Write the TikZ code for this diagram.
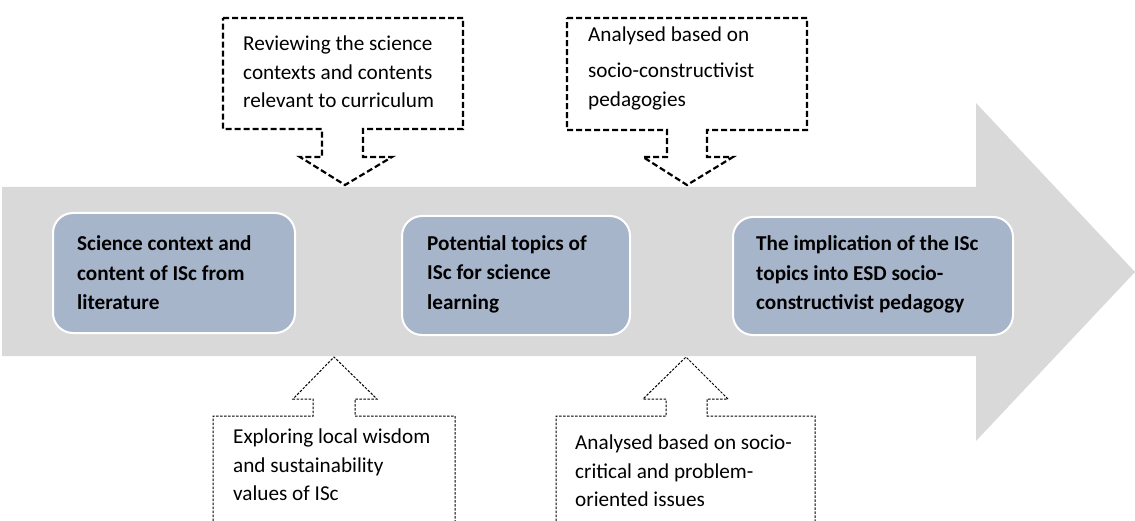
\documentclass[tikz,border=0pt]{standalone}
\usepackage{fontspec}
\setmainfont{Carlito}
\usetikzlibrary{arrows}
\definecolor{arrowgray}{RGB}{217,217,217}
\definecolor{boxblue}{RGB}{167,181,203}

\begin{document}
\begin{tikzpicture}[line cap=round,line join=round,x=1pt,y=-1pt,
  topicbox/.style={rounded corners=20pt,fill=boxblue,draw=white,line width=2pt,inner sep=0pt},
  topictext/.style={font=\fontsize{21.2}{29.5}\selectfont\bfseries,align=left,anchor=west,inner sep=0pt},
  notetext/.style={font=\fontsize{21.2}{28.5}\selectfont,align=left,anchor=west,inner sep=0pt},
  topnote/.style={draw=black,fill=white,line width=2.2pt,dash pattern=on 6pt off 3pt,line cap=butt,line join=miter},
  bottomnote/.style={draw=black,line width=1pt,dash pattern=on 2.5pt off 1.5pt,line cap=butt,line join=miter}]
\useasboundingbox (0,0) rectangle (1135,521);
%iso nuoli
\fill[color=arrowgray] (2,187)--(976,187)--(976,103)--(1135,272)--(976,441)--(976,356)--(2,356)--cycle;

%laatikot
\node[topicbox,minimum width=242pt,minimum height=120pt] (topic1) at (174,273) {};
\node[topicbox,minimum width=228pt,minimum height=119pt] (topic2) at (516,275.5) {};
\node[topicbox,minimum width=280pt,minimum height=118pt] (topic3) at (873,276) {};
\node[topictext] (topic1text) at ([xshift=25pt]topic1.west) {Science context and\\content of ISc from\\literature};
\node[topictext] (topic2text) at ([xshift=26pt,yshift=1.5pt]topic2.west) {Potential topics of\\ISc for science\\learning};
\node[topictext] (topic3text) at ([xshift=24pt,yshift=1.5pt]topic3.west) {The implication of the ISc\\topics into ESD socio-\\constructivist pedagogy};

%ylhaalla
\draw[topnote] (223,18)--(463,18)--(463,129)--(363,129)--(363,157)--(392,157)--(345,185)--(300,157)--(322,157)--(322,129)--(223,129)--cycle;
\draw[topnote] (567,18)--(807,18)--(807,130)--(707,130)--(707,157)--(733,157)--(687,185)--(643,157)--(667,157)--(667,130)--(567,130)--cycle;
\node[notetext] (note1) at (243,72) {Reviewing the science\\contexts and contents\\relevant to curriculum};
\node[notetext] (note2) at (588,68) {Analysed based on\\[8pt]socio-constructivist\\pedagogies};

%alhaalla
\draw[bottomnote] (213,521)--(213,416)--(313,416)--(313,399)--(293,399)--(334,357)--(377,399)--(355,399)--(355,416)--(455,416)--(455,521);
\draw[bottomnote] (556,521)--(556,416)--(666,416)--(666,399)--(643,399)--(686,357)--(728,399)--(707,399)--(707,416)--(815,416)--(815,521);
\node[notetext] (note3) at (233,465) {Exploring local wisdom\\and sustainability\\values of ISc};
\node[notetext] (note4) at (575,471) {Analysed based on socio-\\critical and problem-\\oriented issues};
\end{tikzpicture}
\end{document}
